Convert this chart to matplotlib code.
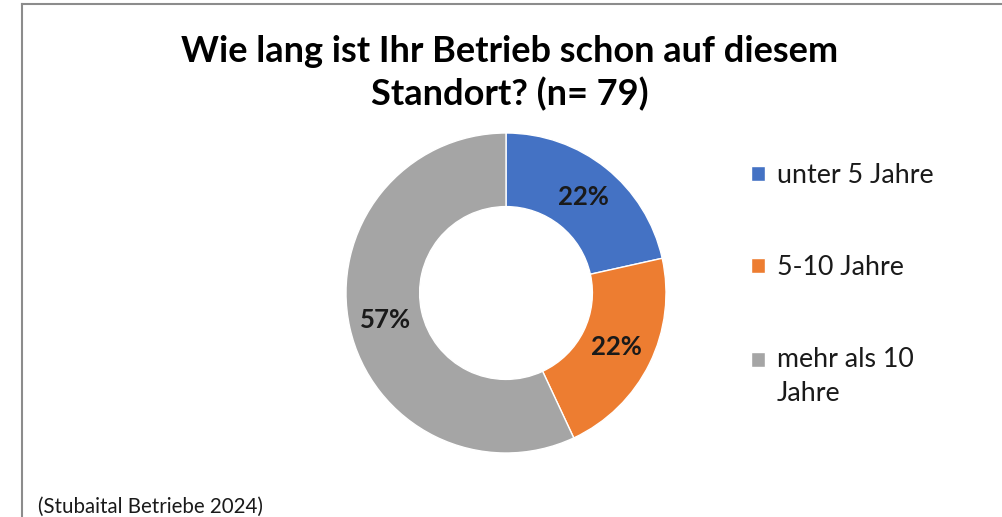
import matplotlib.pyplot as plt
from matplotlib.lines import Line2D
from matplotlib.patches import Rectangle
from matplotlib.legend_handler import HandlerPatch

# Data
categories = ["unter 5 Jahre", "5-10 Jahre", "mehr als 10\nJahre"]
counts = [17, 17, 45]
colors = ["#4472C4", "#ED7D31", "#A5A5A5"]
title = "Wie lang ist Ihr Betrieb schon auf diesem\nStandort? (n= 79)"
source = "(Stubaital Betriebe 2024)"

plt.rcParams["font.family"] = ["Lato", "DejaVu Sans"]

W, H = 1003, 517
fig = plt.figure(figsize=(W / 100, H / 100), dpi=100)

# Frame lines (left and top only visible)
fig.add_artist(Line2D([22 / W, 22 / W], [0, 1 - 4 / H], color="#8c8c8c", lw=1.5))
fig.add_artist(Line2D([22 / W, 1], [1 - 4 / H, 1 - 4 / H], color="#8c8c8c", lw=1.5))

# Donut
cx, cy, r = 506, 293, 160
ax = fig.add_axes([(cx - r) / W, (H - cy - r) / H, 2 * r / W, 2 * r / H])
wedges, texts, autotexts = ax.pie(
    counts, colors=colors, startangle=90, counterclock=False, radius=1,
    autopct=lambda p: "%d%%" % round(p), pctdistance=0.77,
    wedgeprops=dict(width=0.46, edgecolor="white", linewidth=1),
    textprops=dict(fontsize=18.5, fontweight="bold", color="#1a1a1a"))
ax.set_xlim(-1, 1)
ax.set_ylim(-1, 1)
ax.set_axis_off()

fig.text(510 / W, 1 - 73 / H, title, ha="center", va="center", fontsize=26,
         fontweight="bold", linespacing=1.32, color="black")


def square(legend, orig_handle, xdescent, ydescent, width, height, fontsize):
    # multi-line labels: put the square next to the first line
    shift = 12.5 if orig_handle is wedges[-1] else 0
    return Rectangle((-xdescent, -ydescent + shift), width, height)


leg = fig.legend(wedges, categories, loc="upper left", bbox_to_anchor=(727 / W, 1 - 139 / H),
                 frameon=False, fontsize=19.3, handlelength=0.5, handleheight=0.5,
                 handletextpad=0.45, labelspacing=2.5, labelcolor="#1a1a1a",
                 handler_map={w: HandlerPatch(patch_func=square) for w in wedges})
for t in leg.get_texts():
    t.set_linespacing(1.45)

fig.text(38 / W, 1 - 507 / H, source, ha="left", va="center", fontsize=14.8, color="#1a1a1a")

fig.savefig("out.png", dpi=100)
